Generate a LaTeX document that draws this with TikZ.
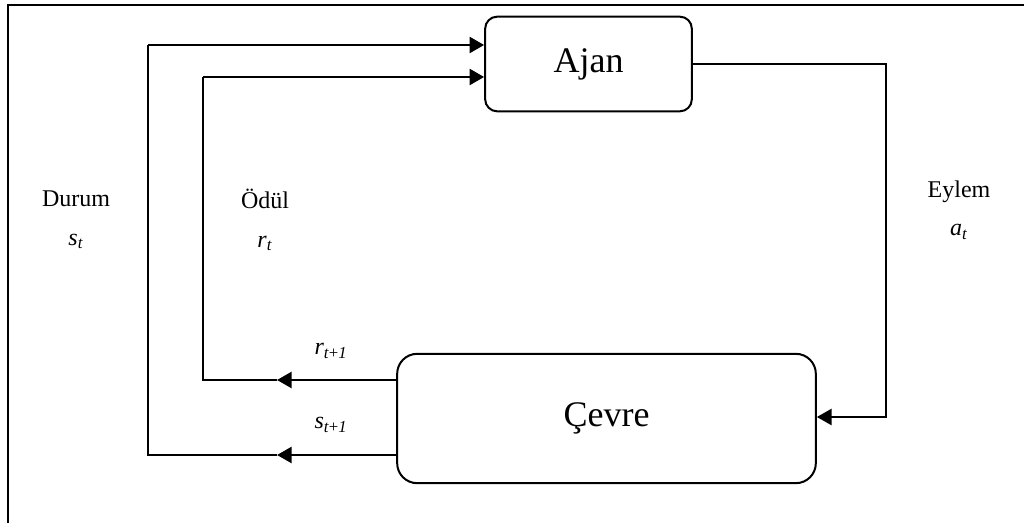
\documentclass[tikz,border=0pt]{standalone}
\usepackage{fontspec}
\setmainfont{Liberation Serif}
\usetikzlibrary{arrows.meta}
\begin{document}
\begin{tikzpicture}[x=0.75pt,y=-0.75pt,
  box/.style={draw,line width=1.5pt,align=center,inner sep=0pt,
    font=\fontsize{27}{32}\selectfont},
  heavy/.style={line width=2pt},
  light/.style={line width=0.9pt},
  medium/.style={line width=1.6pt},
  tip/.style={-{Triangle[length=11pt,width=12pt]}},
  lbl/.style={align=center,font=\fontsize{18}{29}\selectfont}]
\useasboundingbox (0,0) rectangle (1024,523);
% outer frame
\draw[line width=1.6pt] (8,523) -- (8,5) -- (1024,5);
% blocks
\node[box,rounded corners=9pt,minimum width=155pt,minimum height=71pt] (ajan) at (588.5,64) {Ajan};
\node[box,rounded corners=15pt,minimum width=314pt,minimum height=97pt] (cevre) at (606.5,418.5) {Çevre};
% corner points of the feedback paths
\coordinate (sb) at (148,455);
\coordinate (st) at (148,45);
\coordinate (smid) at (277,455);
\coordinate (rb) at (203,380);
\coordinate (rt) at (203,77);
\coordinate (rmid) at (277,380);
\coordinate (at) at (886,64);
\coordinate (ab) at (886,417);
% state path
\draw[heavy,tip] (cevre.west |- smid) -- (smid);
\draw[heavy] (smid) -- (sb) -- (st);
\draw[heavy,tip] (st) -- (ajan.west |- st);
% reward path
\draw[heavy,tip] (cevre.west |- rmid) -- (rmid);
\draw[light] (rmid) -- (rb) -- (rt);
\draw[heavy,tip] (rt) -- (ajan.west |- rt);
% action path
\draw[medium,tip] (ajan.east) -- (at) -- (ab) -- (cevre.east |- ab);
% labels
\node[lbl] (durum) at (76,220) {Durum\\\textit{s}\textsubscript{\textit{t}}};
\node[lbl] (odul) at (265,220) {Ödül\\\textit{r}\textsubscript{\textit{t}}};
\node[lbl] (eylem) at (959,210) {Eylem\\\textit{a}\textsubscript{\textit{t}}};
\node[lbl] (r1) at (331,351) {\textit{r}\textsubscript{\textit{t}+\textit{1}}};
\node[lbl] (s1) at (331,425) {\textit{s}\textsubscript{\textit{t}+\textit{1}}};
\end{tikzpicture}
\end{document}
